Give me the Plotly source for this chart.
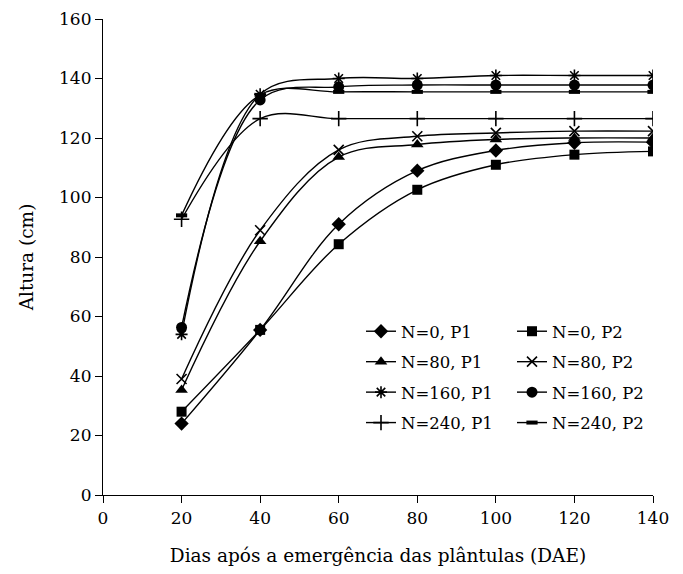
import plotly.graph_objects as go

dae = [20, 40, 60, 80, 100, 120, 140]

n0_p1 = [24, 55.5, 91, 109, 115.8, 118.4, 118.6]
n0_p2 = [28, 55.5, 84.3, 102.6, 111, 114.4, 115.5]
n80_p1 = [35.3, 85.3, 113.6, 117.8, 119.5, 120, 120]
n80_p2 = [39, 89, 116, 120.6, 121.7, 122.3, 122.3]
n160_p1 = [54, 134.7, 140, 140, 141, 141, 141]
n160_p2 = [56.3, 132.8, 137.2, 137.8, 137.8, 137.8, 137.8]
n240_p1 = [92.7, 126.5, 126.5, 126.5, 126.5, 126.5, 126.5]
n240_p2 = [94, 134.5, 135.5, 135.5, 135.5, 135.5, 135.5]

series_names = ["N=0, P1", "N=0, P2", "N=80, P1", "N=80, P2",
                "N=160, P1", "N=160, P2", "N=240, P1", "N=240, P2"]
series_values = [n0_p1, n0_p2, n80_p1, n80_p2, n160_p1, n160_p2, n240_p1, n240_p2]

# marker styles: (symbol, size, line width)
styles = [
    ("diamond", 11, 0),
    ("square", 10, 0),
    ("triangle-up", 11, 0),
    ("x-thin", 10, 1.6),
    ("asterisk", 10, 1.6),
    ("circle", 11, 0),
    ("cross-thin", 11, 1.6),
    ("line-ew", 8, 4),
]

FONT = "DejaVu Serif"
fig = go.Figure()
for i, (name, vals) in enumerate(zip(series_names, series_values)):
    sym, size, lw = styles[i]
    fig.add_trace(go.Scatter(
        x=dae, y=vals, name=name, mode="lines+markers",
        line=dict(color="black", width=1.4, shape="spline", smoothing=1),
        marker=dict(symbol=sym, size=size, color="black",
                    line=dict(color="black", width=lw)),
        legend="legend" if i % 2 == 0 else "legend2",
        legendgroup=name,
    ))

legend_common = dict(
    font=dict(family=FONT, size=16.5, color="black"),
    bgcolor="rgba(0,0,0,0)", orientation="v",
    yanchor="top", xanchor="left", tracegroupgap=6,
)

fig.update_layout(
    width=667, height=558,
    margin=dict(l=95, r=22, t=11, b=71, autoexpand=False),
    paper_bgcolor="white", plot_bgcolor="white",
    font=dict(family=FONT, size=17, color="black"),
    showlegend=True,
    legend=dict(x=(361 - 103) / 550, y=(495 - 314) / 476, **legend_common),
    legend2=dict(x=(512 - 103) / 550, y=(495 - 314) / 476, **legend_common),
    xaxis=dict(
        range=[0, 140], dtick=20, tick0=0, showgrid=False, zeroline=False,
        showline=True, linecolor="black", linewidth=1.2, automargin=False,
        ticks="outside", ticklen=7, tickcolor="black", tickwidth=1.2,
        tickfont=dict(family=FONT, size=17, color="black"),
        title=dict(text="Dias após a emergência das plântulas (DAE)",
                   font=dict(family=FONT, size=18.5, color="black"), standoff=24),
    ),
    yaxis=dict(
        range=[0, 160], dtick=20, tick0=0, showgrid=False, zeroline=False,
        showline=True, linecolor="black", linewidth=1.2, automargin=False,
        ticks="outside", ticklen=7, tickcolor="black", tickwidth=1.2,
        tickfont=dict(family=FONT, size=17, color="black"),
        title=dict(text="Altura (cm)",
                   font=dict(family=FONT, size=18.5, color="black"), standoff=20),
    ),
)

fig.write_html("out.html")
